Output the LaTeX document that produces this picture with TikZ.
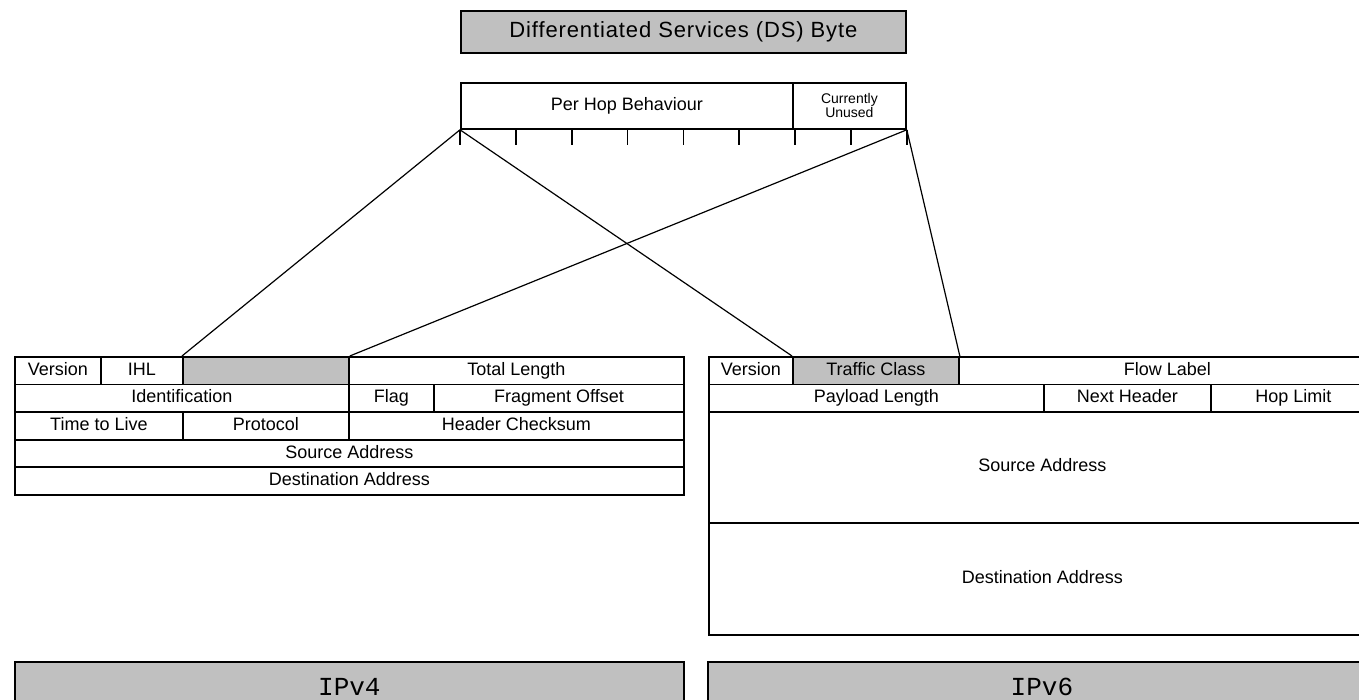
\documentclass[tikz,border=0pt]{standalone}
\usepackage{fontspec}
\setsansfont{Liberation Sans}
\setmonofont{Liberation Mono}
\usetikzlibrary{calc}
\definecolor{dsgray}{RGB}{192,192,192}

\begin{document}
\begin{tikzpicture}[x=1pt,y=-1pt,line width=1.8pt,
  field/.style={draw,anchor=north west,inner sep=0pt,minimum height=27.6pt,
    text height=13pt,text depth=4pt,font=\sffamily\fontsize{18}{20}\selectfont},
  shaded field/.style={field,fill=dsgray},
  link/.style={line width=1.2pt}]

  \clip (0,0) rectangle (1359,700);

  % DS byte
  \node[shaded field,minimum width=445pt,minimum height=42pt,text height=16pt,text depth=5pt,
    font=\sffamily\fontsize{22}{24}\selectfont\addfontfeature{LetterSpace=4}] (dsbyte) at (460,10) {Differentiated Services (DS) Byte};
  \node[field,minimum width=332pt,minimum height=46pt] (phb) at (460,82) {Per Hop Behaviour};
  \node[field,minimum width=113pt,minimum height=46pt,align=center,text height=,text depth=,
    font=\sffamily\fontsize{14}{12}\selectfont] (unused) at (792,82) {Currently\\Unused};
  \foreach \i in {0,...,8}
    \draw ($(phb.south west)!\i/8!(unused.south east)$) -- ++(0,15);

  % IPv4 header
  \node[field,minimum width=86pt] (v4ver) at (14,356) {Version};
  \node[field,minimum width=82pt] (ihl) at (100,356) {IHL};
  \node[shaded field,minimum width=166pt] (tos) at (182,356) {};
  \node[field,minimum width=335pt] (totlen) at (348,356) {Total Length};
  \node[field,minimum width=334pt] (ident) at (14,383.6) {Identification};
  \node[field,minimum width=85pt] (flag) at (348,383.6) {Flag};
  \node[field,minimum width=250pt] (fragoff) at (433,383.6) {Fragment Offset};
  \node[field,minimum width=168pt] (ttl) at (14,411.2) {Time to Live};
  \node[field,minimum width=166pt] (proto) at (182,411.2) {Protocol};
  \node[field,minimum width=335pt] (hcsum) at (348,411.2) {Header Checksum};
  \node[field,minimum width=669pt] (src4) at (14,438.8) {Source Address};
  \node[field,minimum width=669pt] (dst4) at (14,466.4) {Destination Address};

  % IPv6 header
  \node[field,minimum width=84pt] (v6ver) at (708,356) {Version};
  \node[shaded field,minimum width=166pt] (tclass) at (792,356) {Traffic Class};
  \node[field,minimum width=417pt] (flow) at (958,356) {Flow Label};
  \node[field,minimum width=335pt] (paylen) at (708,383.5) {Payload Length};
  \node[field,minimum width=167pt] (nexthdr) at (1043,383.5) {Next Header};
  \node[field,minimum width=165pt] (hoplim) at (1210,383.5) {Hop Limit};
  \node[field,minimum width=667pt,minimum height=111pt] (src6) at (708,411) {Source Address};
  \node[field,minimum width=667pt,minimum height=112pt] (dst6) at (708,522) {Destination Address};

  % captions
  \node[shaded field,minimum width=669pt,minimum height=50pt,text height=,text depth=,
    font=\ttfamily\fontsize{26}{28}\selectfont] (ipv4) at (14,661) {IPv4};
  \node[shaded field,minimum width=668pt,minimum height=50pt,text height=,text depth=,
    font=\ttfamily\fontsize{26}{28}\selectfont] (ipv6) at (707,661) {IPv6};

  \draw[link] (phb.south west) -- (tos.north west);
  \draw[link] (phb.south west) -- (tclass.north west);
  \draw[link] (unused.south east) -- (tos.north east);
  \draw[link] (unused.south east) -- (tclass.north east);
\end{tikzpicture}
\end{document}
